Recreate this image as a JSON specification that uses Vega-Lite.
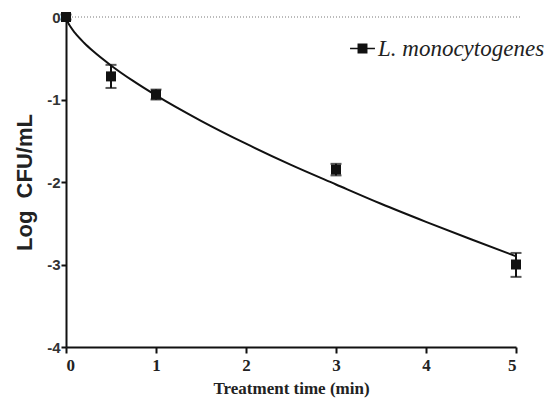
{
  "$schema": "https://vega.github.io/schema/vega-lite/v6.json",
  "width": 450,
  "height": 330,
  "autosize": "none",
  "padding": {"left": 66, "top": 17, "right": 41, "bottom": 60},
  "background": "white",
  "config": {"view": {"stroke": null}},
  "datasets": {
    "obs": [
      {"t": 0, "y": 0, "lo": -0.03, "hi": 0.03, "series": "L. monocytogenes"},
      {"t": 0.5, "y": -0.72, "lo": -0.86, "hi": -0.58, "series": "L. monocytogenes"},
      {"t": 1, "y": -0.94, "lo": -1.0, "hi": -0.88, "series": "L. monocytogenes"},
      {"t": 3, "y": -1.85, "lo": -1.92, "hi": -1.78, "series": "L. monocytogenes"},
      {"t": 5, "y": -3.0, "lo": -3.15, "hi": -2.86, "series": "L. monocytogenes"}
    ],
    "fit": [
      {"t": 0, "y": 0},
      {"t": 0.02, "y": -0.063},
      {"t": 0.05, "y": -0.119},
      {"t": 0.1, "y": -0.193},
      {"t": 0.2, "y": -0.312},
      {"t": 0.3, "y": -0.413},
      {"t": 0.5, "y": -0.587},
      {"t": 0.75, "y": -0.778},
      {"t": 1, "y": -0.95},
      {"t": 1.5, "y": -1.258},
      {"t": 2, "y": -1.536},
      {"t": 2.5, "y": -1.793},
      {"t": 3, "y": -2.03},
      {"t": 3.5, "y": -2.264},
      {"t": 4, "y": -2.483},
      {"t": 4.5, "y": -2.694},
      {"t": 5, "y": -2.9}
    ],
    "zero": [{"t": 0, "y": 0}, {"t": 5.05, "y": 0}]
  },
  "encoding": {
    "x": {
      "field": "t", "type": "quantitative",
      "scale": {"domain": [0, 5], "nice": false, "zero": false},
      "axis": {
        "title": "Treatment time (min)",
        "values": [0, 1, 2, 3, 4, 5],
        "grid": false,
        "domainColor": "#111", "domainWidth": 2,
        "tickColor": "#111", "tickWidth": 2, "tickSize": 6,
        "labelFont": "Liberation Serif", "labelFontWeight": "bold", "labelFontSize": 17, "labelColor": "#222", "labelPadding": 4,
        "titleFont": "Liberation Serif", "titleFontWeight": "bold", "titleFontSize": 17, "titleColor": "#222", "titlePadding": 7
      }
    },
    "y": {
      "field": "y", "type": "quantitative",
      "scale": {"domain": [-4, 0], "nice": false, "zero": false},
      "axis": {
        "title": "Log\u00a0\u00a0CFU/mL",
        "values": [-4, -3, -2, -1, 0],
        "labelExpr": "replace(datum.label, '\u2212', '-')",
        "grid": false,
        "domainColor": "#111", "domainWidth": 2,
        "tickColor": "#111", "tickWidth": 2, "tickSize": 5,
        "labelFont": "Liberation Sans", "labelFontWeight": "bold", "labelFontSize": 15, "labelColor": "#333", "labelPadding": 1,
        "titleFont": "Liberation Sans", "titleFontWeight": "bold", "titleFontSize": 22, "titleColor": "#222", "titlePadding": 10
      }
    }
  },
  "layer": [
    {
      "data": {"name": "zero"},
      "mark": {"type": "line", "color": "#777", "strokeDash": [1, 2], "strokeWidth": 1, "clip": false}
    },
    {
      "data": {"name": "fit"},
      "mark": {"type": "line", "color": "#111", "strokeWidth": 2, "interpolate": "monotone"}
    },
    {
      "data": {"name": "obs"},
      "mark": {"type": "rule", "color": "#111", "strokeWidth": 2},
      "encoding": {"y": {"field": "lo", "type": "quantitative"}, "y2": {"field": "hi"}}
    },
    {
      "data": {"name": "obs"},
      "mark": {"type": "tick", "color": "#111", "orient": "horizontal", "size": 11, "thickness": 2},
      "encoding": {"y": {"field": "lo", "type": "quantitative"}}
    },
    {
      "data": {"name": "obs"},
      "mark": {"type": "tick", "color": "#111", "orient": "horizontal", "size": 11, "thickness": 2},
      "encoding": {"y": {"field": "hi", "type": "quantitative"}}
    },
    {
      "data": {"name": "obs"},
      "mark": {"type": "point", "shape": "square", "filled": true, "size": 100, "opacity": 1, "clip": false},
      "encoding": {
        "color": {
          "field": "series", "type": "nominal",
          "scale": {"domain": ["L. monocytogenes"], "range": ["#111"]},
          "legend": {
            "title": null,
            "orient": "none",
            "legendX": 284,
            "legendY": 19,
            "symbolType": "M-1,-0.07H1V0.07H-1Z M-0.4,-0.4H0.4V0.4H-0.4Z",
            "symbolSize": 620,
            "symbolFillColor": "#111",
            "symbolStrokeWidth": 0,
            "labelFont": "Liberation Serif",
            "labelFontStyle": "italic",
            "labelFontSize": 23,
            "labelColor": "#222",
            "labelOffset": 3,
            "labelLimit": 400
          }
        }
      }
    }
  ]
}
